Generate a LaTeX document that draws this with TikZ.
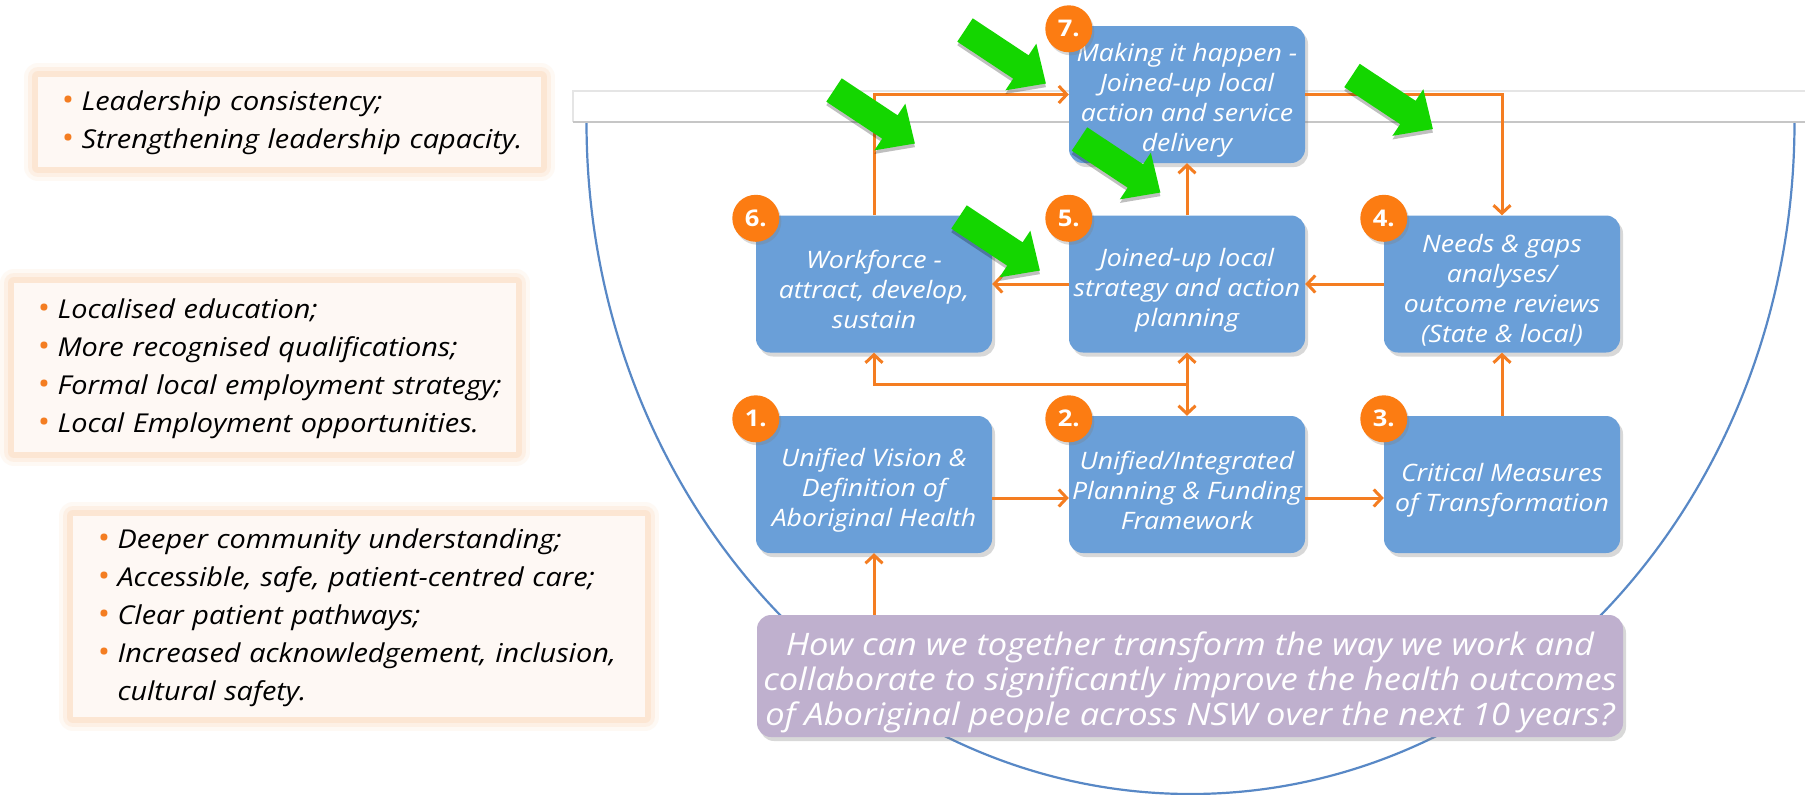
\documentclass[tikz,border=0pt]{standalone}
\usepackage{fontspec}
\setmainfont{Open Sans}[FakeStretch=1.11]
\usetikzlibrary{arrows.meta,calc,shadows}

\definecolor{stageblue}{RGB}{106,159,216}
\definecolor{askpurple}{RGB}{191,176,206}
\definecolor{flowline}{RGB}{244,125,33}
\definecolor{badgefill}{RGB}{252,124,18}
\definecolor{pushgreen}{RGB}{20,214,0}
\definecolor{notefill}{RGB}{254,248,244}
\definecolor{noteglow}{RGB}{252,208,170}
\definecolor{bowlblue}{RGB}{88,136,198}

\newcommand{\notedot}{{\color{flowline}\fontsize{30}{30}\selectfont\textbullet}}
\newcommand{\toproom}[1]{\rule{0pt}{#1}}

\tikzset{flowtip/.tip={Straight Barb[length=8pt,width=17pt]}}

\begin{document}
\begin{tikzpicture}[x=1pt,y=-1pt,
    stagebox/.style={rectangle,rounded corners=14pt,fill=stageblue,text=white,
      minimum width=236pt,minimum height=137pt,inner sep=1pt,align=center,
      font=\fontsize{24}{30}\selectfont\itshape,
      drop shadow={shadow xshift=3pt,shadow yshift=-4pt,opacity=.3}},
    askbox/.style={stagebox,fill=askpurple,minimum width=866pt,minimum height=122pt,
      font=\fontsize{31}{35}\selectfont\itshape},
    numbadge/.style={circle,fill=badgefill,text=white,minimum size=47pt,inner sep=0pt,
      font=\fontsize{23}{23}\selectfont\bfseries,
      drop shadow={shadow xshift=2pt,shadow yshift=-3pt,opacity=.3}},
    notebox/.style={rectangle,fill=notefill,inner xsep=23pt,inner ysep=0pt,align=left,
      font=\fontsize{26}{38}\selectfont\itshape,
      preaction={draw=noteglow,line width=28pt,opacity=.12,line join=round},
      preaction={draw=noteglow,line width=20pt,opacity=.2,line join=round},
      preaction={draw=noteglow,line width=12pt,opacity=.3,line join=round}},
    flow/.style={draw=flowline,line width=3pt,-flowtip},
    pusharrow/.pic={
      \fill[black,opacity=.25] (2,-11) -- (69,-11) -- (69,-25) -- (99,3) -- (69,31) -- (69,17) -- (2,17) -- cycle;
      \fill[pushgreen] (0,-14) -- (67,-14) -- (67,-28) -- (97,0) -- (67,28) -- (67,14) -- (0,14) -- cycle;
    }]
  \useasboundingbox (0,0) rectangle (1805,795);
  \fill[white] (0,0) rectangle (1805,795);

  %% Bowl and strip
  \draw[bowlblue,line width=2.2pt] (586.5,122) arc[start angle=180,end angle=360,x radius=604pt,y radius=672pt];
  \fill[white] (573,91) rectangle (1805,122);
  \draw[gray!20,line width=1.5pt] (1805,91) -- (573,91) -- (573,122);
  \draw[gray!45,line width=1.5pt] (573,122) -- (1805,122);

  %% Notes
  \node[notebox,text width=457pt,minimum height=90pt] (leadnote) at (289.5,122) {%
    \begin{tabular}{@{}l@{\hspace{8pt}}l@{}}
      \notedot & Leadership consistency;\\
      \notedot & Strengthening leadership capacity.
    \end{tabular}};
  \node[notebox,text width=456pt,minimum height=169pt] (worknote) at (265,367.5) {%
    \begin{tabular}{@{}l@{\hspace{8pt}}l@{}}
      \notedot & Localised education;\\
      \notedot & More recognised qualifications;\\
      \notedot & Formal local employment strategy;\\
      \notedot & Local Employment opportunities.
    \end{tabular}};
  \node[notebox,text width=524pt,minimum height=201pt,inner xsep=24pt] (carenote) at (359,616.5) {%
    \begin{tabular}{@{}l@{\hspace{8pt}}l@{}}
      \notedot & Deeper community understanding;\\
      \notedot & Accessible, safe, patient-centred care;\\
      \notedot & Clear patient pathways;\\
      \notedot & Increased acknowledgement, inclusion,\\
               & cultural safety.
    \end{tabular}};

  %% Stages
  \node[stagebox] (happen) at (1187,94.5) {\toproom{30pt}Making it happen -\\Joined-up local\\action and service\\delivery};
  \node[stagebox] (workforce) at (874,284) {\toproom{30pt}Workforce -\\attract, develop,\\sustain};
  \node[stagebox] (strategy) at (1187,284) {\toproom{30pt}Joined-up local\\strategy and action\\planning};
  \node[stagebox] (needs) at (1502,284) {\toproom{30pt}Needs \& gaps\\analyses/\\outcome reviews\\(State \& local)};
  \node[stagebox] (vision) at (874,484.5) {\toproom{30pt}Unified Vision \&\\Definition of\\Aboriginal Health};
  \node[stagebox] (plan) at (1187,484.5) {\toproom{30pt}Unified/Integrated\\Planning \& Funding\\Framework};
  \node[stagebox] (measures) at (1502,484.5) {\toproom{30pt}Critical Measures\\of Transformation};
  \node[askbox] (question) at (1190,676) {\toproom{36pt}How can we together transform the way we work and\\collaborate to significantly improve the health outcomes\\of Aboriginal people across NSW over the next 10 years?};

  %% Links
  \draw[flow] (question.north -| vision.south) -- (vision.south);
  \draw[flow] ($(vision.east)+(0,13.5)$) -- ($(plan.west)+(0,13.5)$);
  \draw[flow] ($(plan.east)+(0,13.5)$) -- ($(measures.west)+(0,13.5)$);
  \draw[flow] (measures.north) -- (needs.south);
  \draw[flow] (needs.west) -- (strategy.east);
  \draw[flow] (strategy.west) -- (workforce.east);
  \draw[flow] (strategy.north) -- (happen.south);
  \draw[flow] (workforce.north) |- (happen.west);
  \draw[flow] (happen.east) -| (needs.north);
  \coordinate (split) at ($(strategy.south)!.5!(plan.north)$);
  \draw[flow,flowtip-flowtip] (strategy.south) -- (plan.north);
  \draw[flow] (split) -| (workforce.south);

  %% Badges
  \foreach \stage/\num in {vision/1,plan/2,measures/3,needs/4,strategy/5,workforce/6,happen/7}
    \node[numbadge] (badge\num) at ([yshift=-3pt]\stage.north west) {\num.};

  %% Push arrows
  \foreach \tx/\ty in {965/30, 834/90, 1079.5/139, 959/217, 1352/75.5}
    \pic[rotate=-33.5] at (\tx,\ty) {pusharrow};
\end{tikzpicture}
\end{document}
